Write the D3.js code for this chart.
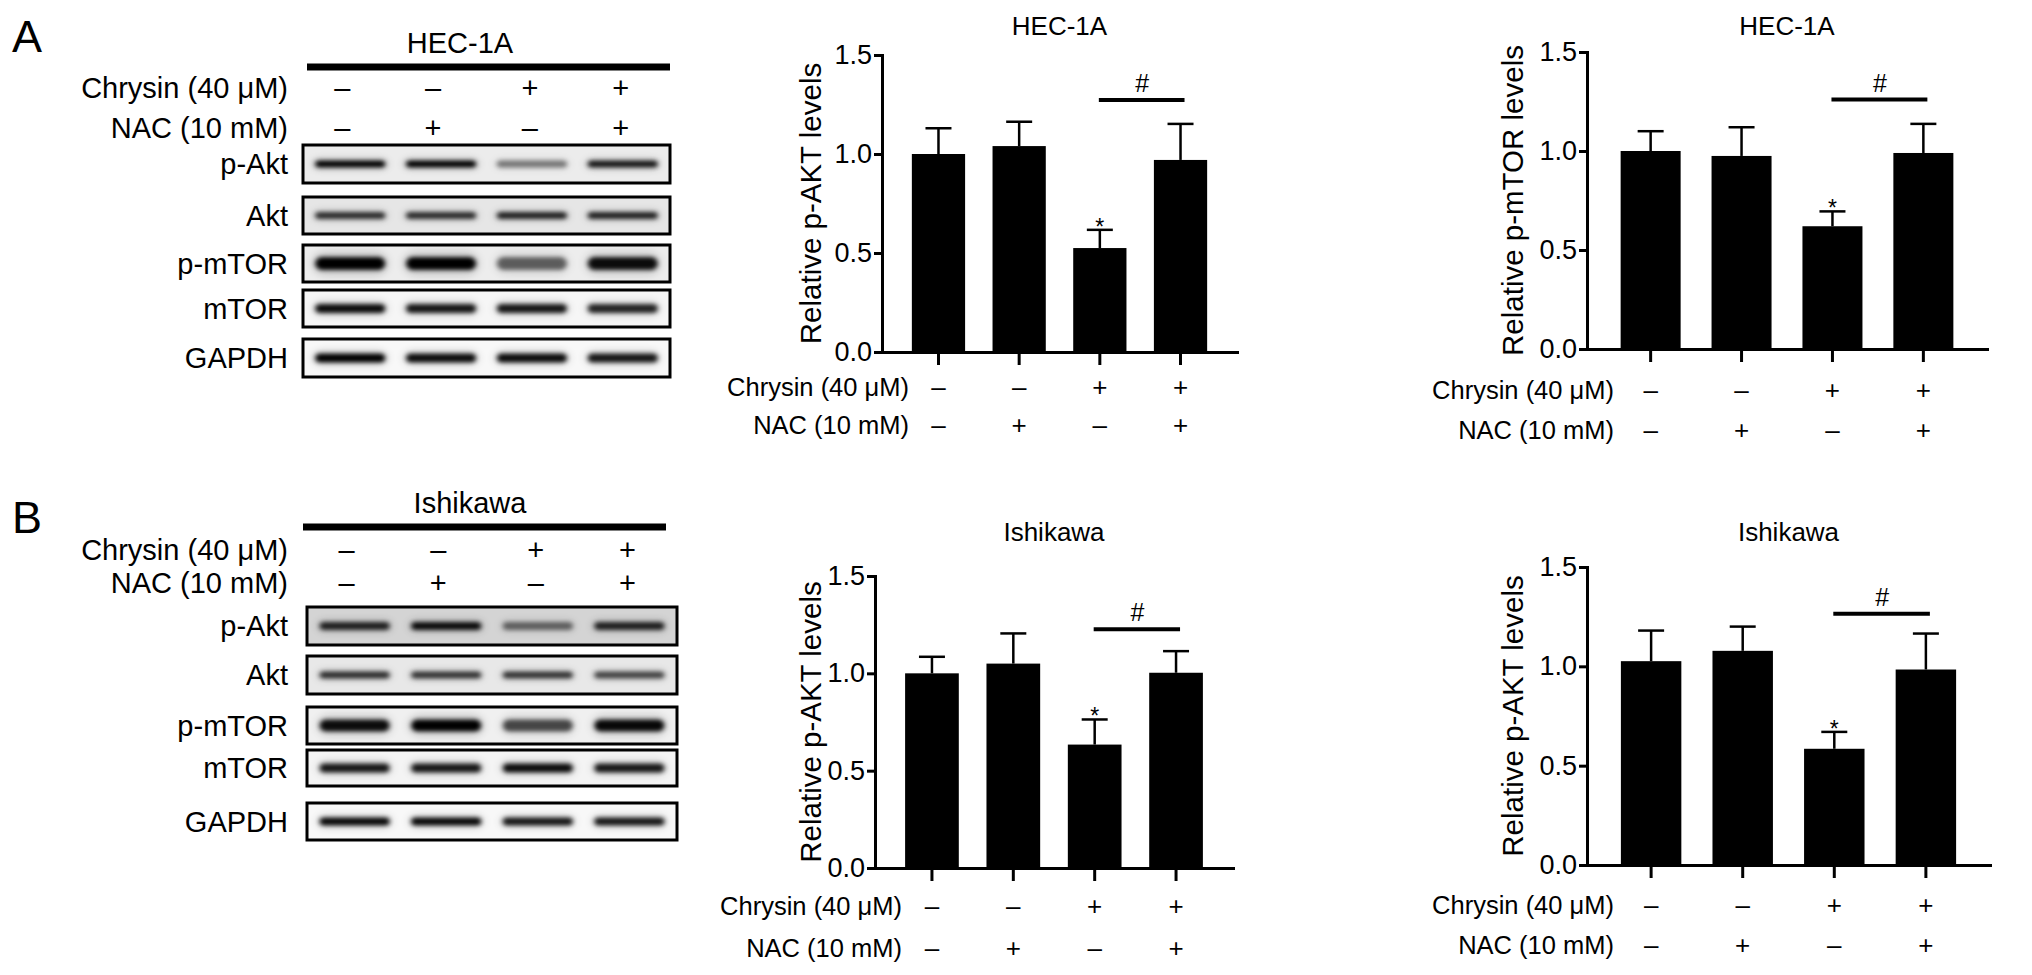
<!DOCTYPE html>
<html><head><meta charset="utf-8">
<script src="https://cdn.jsdelivr.net/npm/d3@7"></script>
<style>
body{margin:0;background:#fff}
svg{display:block}
text{font-family:"Liberation Sans",Arial,Helvetica,sans-serif;fill:#000}
</style>
</head><body>
<svg id="fig" width="2032" height="975"></svg>
<script>
// ---------------- DATA ----------------
const conditions = ["ctrl", "nac", "chrysin", "chrysin+nac"];
const chrysinSigns = ["\u2013", "\u2013", "+", "+"];
const nacSigns = ["\u2013", "+", "\u2013", "+"];
const chrysinLabel = "Chrysin (40 \u03bcM)";
const nacLabel = "NAC (10 mM)";
const yTicks = [0, 0.5, 1.0, 1.5];

// HEC-1A p-AKT
const hecAktMean = [1.00, 1.04, 0.525, 0.97];
const hecAktSem  = [0.13, 0.123, 0.092, 0.182];
// HEC-1A p-mTOR
const hecMtorMean = [1.00, 0.975, 0.62, 0.99];
const hecMtorSem  = [0.10, 0.145, 0.075, 0.147];
// Ishikawa p-AKT (left)
const ishAktMean = [1.00, 1.05, 0.634, 1.003];
const ishAktSem  = [0.085, 0.155, 0.129, 0.111];
// Ishikawa right panel
const ishAkt2Mean = [1.026, 1.078, 0.585, 0.984];
const ishAkt2Sem  = [0.154, 0.122, 0.085, 0.181];
// significance bracket heights (# between groups 3 and 4)
const sigLevels = [1.273, 1.26, 1.226, 1.265];

// Western blot
const blotProteins = ["p-Akt", "Akt", "p-mTOR", "mTOR", "GAPDH"];
const hecBands = [
  [0.95, 0.95, 0.45, 0.85],
  [0.75, 0.75, 0.80, 0.80],
  [1.00, 1.00, 0.55, 0.90],
  [0.90, 0.85, 0.85, 0.80],
  [0.95, 0.90, 0.90, 0.85]
];
const ishBands = [
  [0.80, 0.90, 0.50, 0.80],
  [0.75, 0.72, 0.72, 0.65],
  [0.90, 1.00, 0.65, 0.92],
  [0.85, 0.85, 0.90, 0.85],
  [0.92, 0.92, 0.85, 0.85]
];

// ---------------- LAYOUT ----------------
const svg = d3.select("#fig");
const FONT = '"Liberation Sans", Arial, Helvetica, sans-serif';

const defs = svg.append("defs");
defs.append("filter").attr("id", "blur").attr("x", "-20%").attr("y", "-100%").attr("width", "140%").attr("height", "300%")
  .append("feGaussianBlur").attr("stdDeviation", "2.4 2");
defs.append("filter").attr("id", "blurWide").attr("x", "-20%").attr("y", "-100%").attr("width", "140%").attr("height", "300%")
  .append("feGaussianBlur").attr("stdDeviation", "4 3");

function drawChart(cfg) {
  const g = svg.append("g");
  const x = d3.scaleBand().domain(conditions).range([cfg.x0, cfg.x1]).paddingInner(0.34).paddingOuter(0.37);
  const y = d3.scaleLinear().domain([0, 1.5]).range([cfg.yb, cfg.yt]);
  const cx = i => x(conditions[i]) + x.bandwidth() / 2;

  g.selectAll("rect.bar").data(cfg.mean).join("rect").attr("class", "bar")
    .attr("x", (d, i) => x(conditions[i])).attr("y", d => y(d))
    .attr("width", x.bandwidth()).attr("height", d => y(0) - y(d)).attr("fill", "#000");

  // error bars (upper)
  const capW = 26;
  cfg.mean.forEach((m, i) => {
    const top = y(m + cfg.sem[i]);
    g.append("line").attr("x1", cx(i)).attr("x2", cx(i)).attr("y1", y(m)).attr("y2", top)
      .attr("stroke", "#000").attr("stroke-width", 2.5);
    g.append("line").attr("x1", cx(i) - capW / 2).attr("x2", cx(i) + capW / 2).attr("y1", top).attr("y2", top)
      .attr("stroke", "#000").attr("stroke-width", 2.5);
  });

  // star over chrysin-only bar
  g.append("text").attr("x", cx(2)).attr("y", y(cfg.mean[2] + cfg.sem[2]) + 5)
    .attr("text-anchor", "middle").attr("font-size", 23).text("*");

  // significance line
  const sy = y(cfg.sig);
  g.append("line").attr("x1", cx(2) - 1).attr("x2", cx(3) + 4).attr("y1", sy).attr("y2", sy)
    .attr("stroke", "#000").attr("stroke-width", 4);
  g.append("text").attr("x", (cx(2) + cx(3)) / 2 + 2).attr("y", sy - 8)
    .attr("text-anchor", "middle").attr("font-size", 25).text("#");

  // axes
  const ya = d3.axisLeft(y).tickValues(yTicks).tickFormat(d3.format(".1f")).tickSize(8).tickPadding(2).tickSizeOuter(0);
  const yg = g.append("g").attr("transform", `translate(${cfg.x0},0)`).call(ya);
  const xa = d3.axisBottom(x).tickSize(13).tickSizeOuter(0).tickFormat("");
  const xg = g.append("g").attr("transform", `translate(0,${y(0)})`).call(xa);
  [yg, xg].forEach(a => {
    a.select(".domain").attr("stroke", "#000").attr("stroke-width", 3).attr("stroke-linecap", "square");
    a.selectAll(".tick line").attr("stroke", "#000").attr("stroke-width", 3);
  });
  yg.selectAll(".tick text").attr("font-size", 27).attr("font-family", FONT).attr("fill", "#000");

  // y label
  g.append("text").attr("transform", `translate(${cfg.x0 - cfg.ylabOff},${(cfg.yt + cfg.yb) / 2}) rotate(-90)`)
    .attr("text-anchor", "middle").attr("dominant-baseline", "central").attr("font-size", 29.5).text(cfg.ylabel);

  // title
  g.append("text").attr("x", (cfg.x0 + cfg.x1) / 2).attr("y", cfg.titleY)
    .attr("text-anchor", "middle").attr("dominant-baseline", "central").attr("font-size", 26).text(cfg.title);

  // condition rows
  const rows = [[chrysinLabel, chrysinSigns, cfg.row1], [nacLabel, nacSigns, cfg.row2]];
  rows.forEach(([lab, signs, ry]) => {
    g.append("text").attr("x", cfg.x0 + 27).attr("y", ry).attr("text-anchor", "end")
      .attr("dominant-baseline", "central").attr("font-size", 25.5).text(lab);
    g.selectAll(null).data(signs).join("text").attr("x", (d, i) => cx(i)).attr("y", ry)
      .attr("text-anchor", "middle").attr("dominant-baseline", "central").attr("font-size", 26).text(d => d);
  });
}

function drawBlot(cfg) {
  const g = svg.append("g");
  g.append("text").attr("x", 12).attr("y", cfg.letterY).attr("font-size", 45).text(cfg.letter);
  g.append("text").attr("x", cfg.titleX).attr("y", cfg.titleY).attr("text-anchor", "middle")
    .attr("dominant-baseline", "central").attr("font-size", 29).text(cfg.title);
  g.append("rect").attr("x", cfg.lineX0).attr("y", cfg.lineY - 3.5).attr("width", cfg.lineX1 - cfg.lineX0).attr("height", 7).attr("fill", "#000");

  const lane = d3.scalePoint().domain(conditions).range([cfg.boxX0, cfg.boxX1]).padding(0.52);
  const rows = [[chrysinLabel, chrysinSigns, cfg.row1], [nacLabel, nacSigns, cfg.row2]];
  rows.forEach(([lab, signs, ry]) => {
    g.append("text").attr("x", 288).attr("y", ry).attr("text-anchor", "end")
      .attr("dominant-baseline", "central").attr("font-size", 29).text(lab);
    g.selectAll(null).data(signs).join("text").attr("x", (d, i) => lane(conditions[i]) - (i < 2 ? 8 : 2)).attr("y", ry)
      .attr("text-anchor", "middle").attr("dominant-baseline", "central").attr("font-size", 29).text(d => d);
  });

  blotProteins.forEach((p, r) => {
    const [y0, y1] = cfg.boxes[r];
    const mid = (y0 + y1) / 2;
    g.append("rect").attr("x", cfg.boxX0).attr("y", y0).attr("width", cfg.boxX1 - cfg.boxX0).attr("height", y1 - y0)
      .attr("fill", cfg.bg[r]).attr("stroke", "#000").attr("stroke-width", 3);
    g.append("text").attr("x", 288).attr("y", mid).attr("text-anchor", "end")
      .attr("dominant-baseline", "central").attr("font-size", 29).text(p);
    const bh = cfg.bandH[r];
    cfg.bands[r].forEach((v, i) => {
      const lx = lane(conditions[i]);
      // faint halo
      g.append("rect").attr("x", lx - 38).attr("y", mid - bh).attr("width", 76).attr("height", bh * 2)
        .attr("rx", bh).attr("fill", "#000").attr("opacity", v * 0.12).attr("filter", "url(#blurWide)");
      g.append("rect").attr("x", lx - 35).attr("y", mid - bh / 2).attr("width", 70).attr("height", bh)
        .attr("rx", bh / 2).attr("fill", "#000").attr("opacity", Math.min(1, v * 1.05)).attr("filter", "url(#blur)");
    });
  });
}

// ---------------- DRAW ----------------
drawBlot({
  letter: "A", letterY: 52, title: "HEC-1A", titleX: 460, titleY: 43,
  lineX0: 307, lineX1: 670, lineY: 67, row1: 88, row2: 128,
  boxX0: 303, boxX1: 670,
  boxes: [[145, 183], [197, 234], [245, 282], [290, 327], [339, 377]],
  bg: ["#ececec", "#e6e6e6", "#ededed", "#f6f6f6", "#f8f8f8"],
  bandH: [7, 7, 13, 9, 9],
  bands: hecBands
});
drawBlot({
  letter: "B", letterY: 533, title: "Ishikawa", titleX: 470, titleY: 503,
  lineX0: 303, lineX1: 666, lineY: 527, row1: 550, row2: 583,
  boxX0: 307, boxX1: 677,
  boxes: [[607, 645], [656, 694], [707, 744], [750, 786], [803, 840]],
  bg: ["#d4d4d4", "#e8e8e8", "#f0f0f0", "#f4f4f4", "#f8f8f8"],
  bandH: [8, 7, 12, 9, 8],
  bands: ishBands
});

drawChart({ x0: 882, x1: 1237, yt: 55, yb: 352, title: "HEC-1A", titleY: 26, ylabel: "Relative p-AKT levels", ylabOff: 72,
  mean: hecAktMean, sem: hecAktSem, sig: sigLevels[0], row1: 387, row2: 425 });
drawChart({ x0: 1587, x1: 1987, yt: 52, yb: 349, title: "HEC-1A", titleY: 26, ylabel: "Relative p-mTOR levels", ylabOff: 75,
  mean: hecMtorMean, sem: hecMtorSem, sig: sigLevels[1], row1: 390, row2: 430 });
drawChart({ x0: 875, x1: 1233, yt: 576, yb: 868, title: "Ishikawa", titleY: 532, ylabel: "Relative p-AKT levels", ylabOff: 65,
  mean: ishAktMean, sem: ishAktSem, sig: sigLevels[2], row1: 906, row2: 948 });
drawChart({ x0: 1587, x1: 1990, yt: 567, yb: 865, title: "Ishikawa", titleY: 532, ylabel: "Relative p-AKT levels", ylabOff: 75,
  mean: ishAkt2Mean, sem: ishAkt2Sem, sig: sigLevels[3], row1: 905, row2: 945 });
</script>
</body></html>
